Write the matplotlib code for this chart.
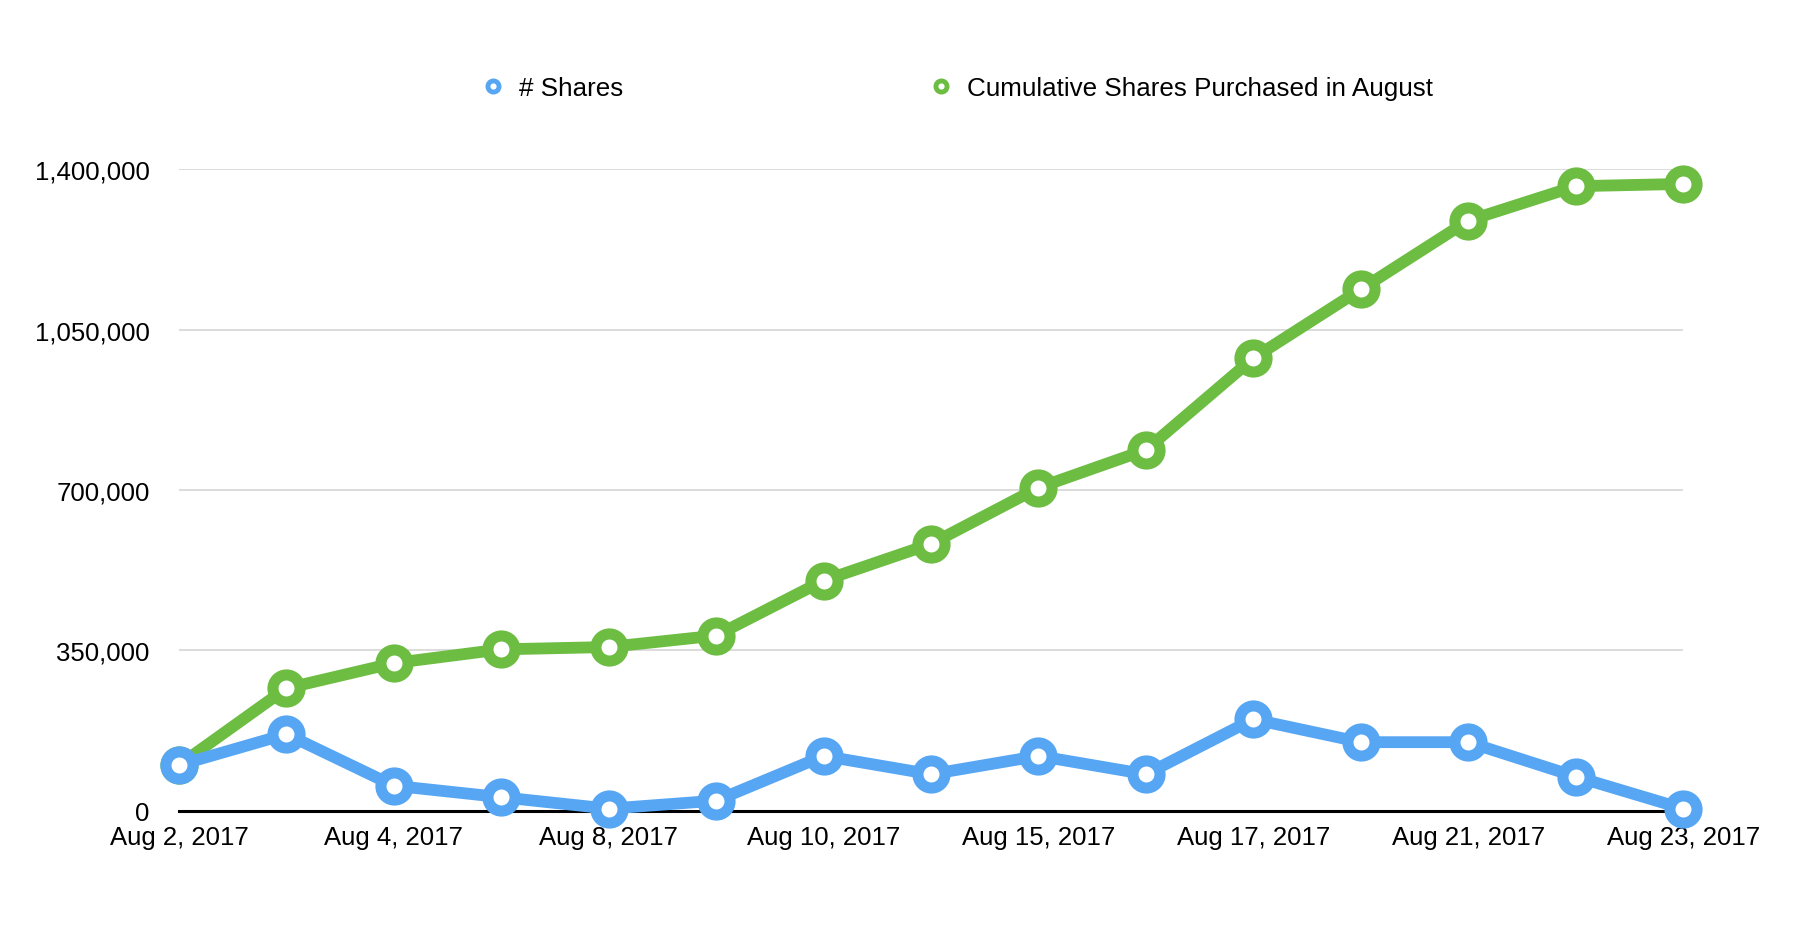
from matplotlib import pyplot as plt
from matplotlib.lines import Line2D
from matplotlib.ticker import FuncFormatter

# 日期（每隔一个显示标签）
dates = ['Aug 2, 2017', 'Aug 3, 2017', 'Aug 4, 2017', 'Aug 7, 2017',
         'Aug 8, 2017', 'Aug 9, 2017', 'Aug 10, 2017', 'Aug 14, 2017',
         'Aug 15, 2017', 'Aug 16, 2017', 'Aug 17, 2017', 'Aug 18, 2017',
         'Aug 21, 2017', 'Aug 22, 2017', 'Aug 23, 2017']
x = range(len(dates))

shares = [100000, 167500, 55000, 30000, 5000, 22500, 120000, 80000,
          120000, 80000, 200000, 150000, 150000, 75000, 5000]

cumulative = [100000, 267500, 322500, 352500, 357500, 382500, 502500, 582500,
              705000, 787500, 987500, 1137500, 1287500, 1362500, 1367500]

yticks = [0, 350000, 700000, 1050000, 1400000]

blue = '#56a6f4'
green = '#6cbd41'

plt.rcParams['font.family'] = ['Liberation Sans', 'DejaVu Sans']

fig = plt.figure(figsize=(17.97, 9.53), dpi=100)
ax = fig.add_axes([0.0996, 0.148, 0.837, 0.6736])

ax.plot(x, cumulative, c=green, lw=8.5, marker='o', ms=19.5, mew=8,
        mfc='white', mec=green, clip_on=False, zorder=3)
ax.plot(x, shares, c=blue, lw=8.5, marker='o', ms=19.5, mew=8,
        mfc='white', mec=blue, clip_on=False, zorder=4)

ax.set_xlim(0, len(dates) - 1)
ax.set_ylim(0, 1400000)
ax.set_yticks(yticks)
ax.yaxis.set_major_formatter(FuncFormatter(lambda v, p: f'{int(v):,}'))
ax.set_xticks(list(x)[::2])
ax.set_xticklabels(dates[::2])
ax.tick_params(axis='both', length=0, labelsize=18.5, colors='black')
ax.tick_params(axis='x', pad=10)
ax.tick_params(axis='y', pad=21)

ax.grid(True, axis='y', color='#d6d6d6', lw=1.2)
ax.set_axisbelow(True)
for s in ['top', 'right', 'left']:
    ax.spines[s].set_visible(False)
ax.spines['bottom'].set_linewidth(2.2)
ax.spines['bottom'].set_color('black')
ax.spines['bottom'].set_zorder(2)

handles = [Line2D([], [], ls='none', marker='o', ms=8, mew=3.5, mfc='white', mec=blue),
           Line2D([], [], ls='none', marker='o', ms=8, mew=3.5, mfc='white', mec=green)]
fig.legend(handles, ['# Shares', 'Cumulative Shares Purchased in August'],
           loc='center', bbox_to_anchor=(0.533, 0.907), ncol=2, frameon=False,
           fontsize=18.7, handlelength=0.8, handletextpad=0.6, columnspacing=11.8)

plt.savefig('out.png', dpi=100)
